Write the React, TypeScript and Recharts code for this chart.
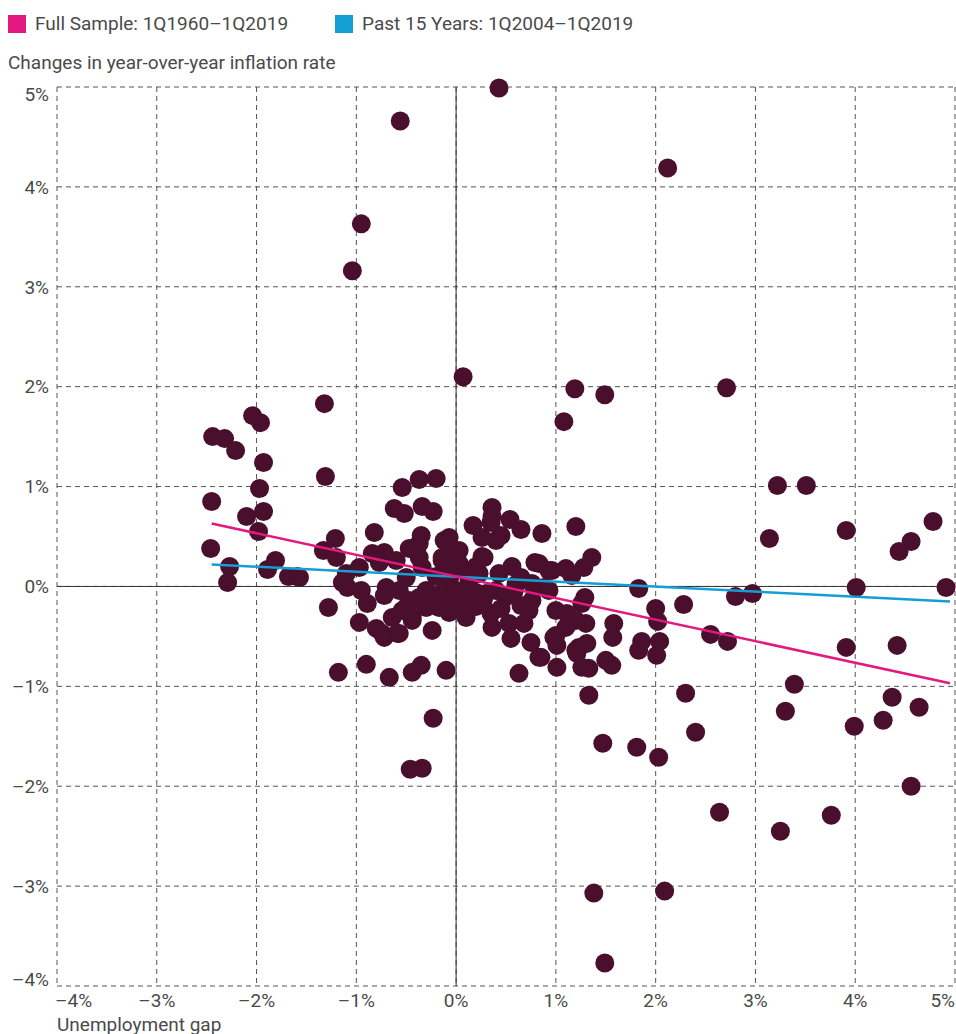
import {
  CartesianGrid,
  ReferenceLine,
  Scatter,
  ScatterChart,
  XAxis,
  YAxis,
} from "recharts";

// [unemployment gap %, change in yoy inflation %]
const quarters: [number, number][] = [
  [0.43, 4.99], [-0.56, 4.66], [2.12, 4.19], [-0.95, 3.63], [-1.04, 3.16],
  [0.07, 2.1], [1.19, 1.98], [1.49, 1.92], [2.71, 1.99], [1.08, 1.65],
  [-1.32, 1.83], [-2.04, 1.71], [-1.96, 1.64], [-2.44, 1.5], [-2.32, 1.48],
  [-2.21, 1.36], [-1.93, 1.24], [-1.31, 1.1], [-1.97, 0.98], [-2.45, 0.85],
  [-1.93, 0.75], [-2.1, 0.7], [-1.98, 0.55], [-2.46, 0.38], [-2.27, 0.2],
  [-2.29, 0.04], [-1.89, 0.17], [-1.81, 0.26], [-1.68, 0.1], [-1.59, 0.1],
  [-1.33, 0.36], [-1.21, 0.48], [-1.28, -0.21], [-1.18, -0.86], [-0.9, -0.78],
  [-0.67, -0.91], [-0.46, -1.83], [-0.34, -1.82], [-0.23, -1.32], [-0.1, -0.84],
  [-0.44, -0.86], [-0.35, -0.79],
  [3.22, 1.01], [3.51, 1.01], [3.14, 0.48], [3.91, 0.56], [4.78, 0.65],
  [4.56, 0.45], [4.44, 0.35], [4.01, -0.01], [4.91, -0.01], [2.8, -0.1],
  [2.97, -0.07], [2.28, -0.18], [2.0, -0.22], [2.02, -0.35], [2.55, -0.48],
  [2.72, -0.55], [1.86, -0.55], [2.04, -0.55], [2.01, -0.69], [1.83, -0.64],
  [3.91, -0.61], [4.42, -0.59], [3.39, -0.98], [2.3, -1.07], [3.3, -1.25],
  [4.37, -1.11], [4.64, -1.21], [4.28, -1.34], [3.99, -1.4], [2.4, -1.46],
  [1.47, -1.57], [1.81, -1.61], [2.03, -1.71], [4.56, -2.0], [2.64, -2.26],
  [3.76, -2.29], [3.25, -2.45], [1.38, -3.07], [2.09, -3.05], [1.49, -3.77],
  [1.33, -1.09],
  [1.36, 0.29], [1.28, 0.19], [1.16, 0.11], [0.96, 0.16], [0.83, 0.23],
  [1.83, -0.02], [1.29, -0.11], [1.26, -0.17], [1.0, -0.24], [1.11, -0.27],
  [1.58, -0.37], [1.57, -0.51], [1.3, -0.37], [1.2, -0.34], [1.1, -0.41],
  [0.98, -0.51], [1.01, -0.59], [1.23, -0.61], [1.31, -0.57], [1.21, -0.67],
  [0.85, -0.71], [1.01, -0.81], [1.26, -0.81], [1.33, -0.82], [1.5, -0.74],
  [1.56, -0.79],
  [0.36, 0.79], [0.36, 0.7], [0.17, 0.61], [0.54, 0.67], [0.65, 0.57],
  [0.26, 0.49], [0.45, 0.51], [0.86, 0.53], [1.2, 0.6], [0.26, 0.3],
  [-0.07, 0.49], [0.03, 0.36], [0.03, 0.23], [0.56, 0.2], [0.43, 0.13],
  [0.79, 0.24], [0.93, 0.16], [1.1, 0.18], [0.65, 0.09], [0.23, 0.13],
  [0.13, 0.06], [0.88, -0.01], [0.76, 0.03], [0.3, -0.07],
  [0.1, -0.31], [0.0, -0.17], [0.35, -0.27], [0.36, -0.41], [0.53, -0.37],
  [0.55, -0.52], [0.68, -0.37], [0.73, -0.24], [0.76, -0.14], [0.65, -0.19],
  [0.75, -0.56], [0.83, -0.71], [0.63, -0.87], [1.0, -0.49], [1.2, -0.64],
  [0.2, -0.06], [0.4, -0.04], [0.93, -0.04],
  [-0.54, 0.99], [-0.37, 1.07], [-0.2, 1.08], [-0.62, 0.78], [-0.52, 0.73],
  [-0.34, 0.8], [-0.23, 0.75], [-0.82, 0.54], [-0.35, 0.51], [-0.37, 0.43],
  [-0.47, 0.38], [-0.12, 0.46], [-0.07, 0.36], [-1.2, 0.29], [-0.84, 0.33],
  [-0.72, 0.34], [-0.77, 0.24], [-0.6, 0.26], [-0.97, 0.19], [-1.1, 0.13],
  [-1.14, 0.04], [-0.37, 0.29], [-0.34, 0.19], [-0.14, 0.26], [-0.07, 0.19],
  [-0.5, 0.09], [-0.7, -0.01],
  [-1.09, -0.01], [-0.95, -0.04], [-0.72, -0.09], [-0.89, -0.17], [-0.97, -0.36],
  [-0.8, -0.42], [-0.72, -0.51], [-0.59, -0.47], [-0.64, -0.31], [-0.5, -0.21],
  [-0.44, -0.31], [-0.37, -0.14], [-0.24, -0.44], [-0.07, -0.26], [-0.14, -0.07],
  [-0.3, -0.04], [-0.57, -0.04],
  [-0.14, 0.29], [0.1, 0.16], [-0.07, 0.06], [0.0, -0.04], [-0.17, -0.21],
  [0.13, -0.21], [-0.44, -0.34], [-0.54, -0.24], [-0.47, -0.14], [-0.37, -0.11],
  [-0.3, -0.21], [-0.57, -0.47], [-0.74, -0.47], [-1.57, 0.09], [0.28, 0.29],
  [0.35, 0.64], [0.4, 0.46],
  [0.2, -0.2], [0.27, -0.15], [0.45, -0.22], [0.5, -0.1], [0.6, 0.02],
  [0.15, 0.1], [-0.05, 0.12], [-0.2, 0.1], [-0.25, -0.1], [0.05, -0.1],
  [0.2, 0.2], [0.58, -0.05],
];

// fitted lines, end points
const fullSampleFit: [number, number][] = [[-2.45, 0.63], [4.95, -0.97]];
const recentFit: [number, number][] = [[-2.45, 0.22], [4.95, -0.15]];

const ticks = [-4, -3, -2, -1, 0, 1, 2, 3, 4, 5];

const legendItems = [
  { label: "Full Sample: 1Q1960\u20131Q2019", color: "#e2197f" },
  { label: "Past 15 Years: 1Q2004\u20131Q2019", color: "#139fd3" },
];

const toXY = (arr: [number, number][]) => arr.map(([x, y]) => ({ x, y }));

const FONT = "Roboto, sans-serif";
const TEXT = "#4a4a4a";
const fmt = (v: number) => (v < 0 ? `\u2013${Math.abs(v)}%` : `${v}%`);

const XTick = ({ x, y, payload }: any) => {
  const v = payload.value;
  const anchor = v === -4 ? "start" : v === 5 ? "end" : "middle";
  const dx = v === -4 ? -2 : 0;
  return (
    <text x={x + dx} y={y} dy="0.71em" textAnchor={anchor} fill={TEXT} fontSize={19} fontFamily={FONT}>
      {fmt(v)}
    </text>
  );
};

const YTick = ({ x, y, payload }: any) => {
  const v = payload.value;
  const shift = v === 5 ? 7 : v === -4 ? -7 : 0;
  return (
    <text x={x} y={y + shift} dy="0.355em" textAnchor="end" fill={TEXT} fontSize={19} fontFamily={FONT}>
      {fmt(v)}
    </text>
  );
};

const Dot = (props: any) => (
  <circle cx={props.cx} cy={props.cy} r={9.5} fill="#4a0f2d" />
);

const NoDot = () => <g />;

export default function App() {
  return (
    <div style={{ position: "absolute", left: 0, top: 0, width: 956, height: 1034, background: "#fff", fontFamily: FONT, color: TEXT }}>
      <div style={{ position: "absolute", left: 8, top: 14, display: "flex", fontSize: 19 }}>
        {legendItems.map((it, i) => (
          <div key={it.label} style={{ display: "flex", alignItems: "center", marginRight: i === 0 ? 47 : 0 }}>
            <span style={{ width: 18, height: 18, background: it.color, display: "inline-block", marginRight: 9 }} />
            <span style={{ lineHeight: "20px" }}>{it.label}</span>
          </div>
        ))}
      </div>
      <div style={{ position: "absolute", left: 8, top: 53, fontSize: 19, lineHeight: "19px" }}>
        Changes in year-over-year inflation rate
      </div>
      <div style={{ position: "absolute", left: 57, top: 1015, fontSize: 19, lineHeight: "19px" }}>
        Unemployment gap
      </div>
      <ScatterChart width={956} height={1034} margin={{ top: 87, right: 1, bottom: 0, left: 0 }}>
        <CartesianGrid stroke="#555" strokeDasharray="5 4" strokeWidth={1} />
        <XAxis
          type="number"
          dataKey="x"
          domain={[-4, 5]}
          ticks={ticks}
          height={48}
          axisLine={false}
          tickLine={false}
          interval={0}
          tick={<XTick />}
        />
        <YAxis
          type="number"
          dataKey="y"
          domain={[-4, 5]}
          ticks={ticks}
          width={57}
          axisLine={false}
          tickLine={false}
          interval={0}
          tick={<YTick />}
        />
        <ReferenceLine x={0} stroke="#333" strokeWidth={1} />
        <ReferenceLine y={0} stroke="#333" strokeWidth={1} />
        <Scatter data={toXY(quarters)} shape={<Dot />} isAnimationActive={false} />
        <Scatter
          data={toXY(recentFit)}
          line={{ stroke: "#139fd3", strokeWidth: 2.5 }}
          shape={<NoDot />}
          isAnimationActive={false}
        />
        <Scatter
          data={toXY(fullSampleFit)}
          line={{ stroke: "#e2197f", strokeWidth: 2.5 }}
          shape={<NoDot />}
          isAnimationActive={false}
        />
      </ScatterChart>
    </div>
  );
}
